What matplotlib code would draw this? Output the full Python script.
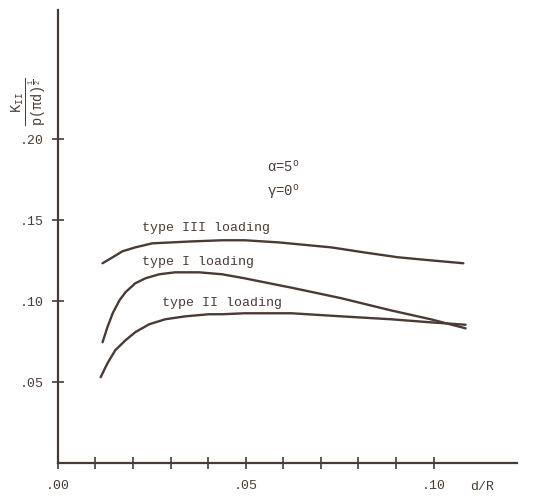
import numpy as np
from matplotlib import pyplot as plt

# curves (d/R, K_II / p(pi d)^1/2)
x_III = [0.0119, 0.0146, 0.0172, 0.0206, 0.0251, 0.0304, 0.0357, 0.0437,
         0.0497, 0.0587, 0.0728, 0.0815, 0.0905, 0.0992, 0.1079]
y_III = [0.1235, 0.1272, 0.1309, 0.1333, 0.1358, 0.1364, 0.1370, 0.1377,
         0.1377, 0.1364, 0.1333, 0.1302, 0.1272, 0.1253, 0.1235]

x_I = [0.0119, 0.0132, 0.0146, 0.0164, 0.0180, 0.0206, 0.0233, 0.0270, 0.0312,
       0.0376, 0.0437, 0.0497, 0.0587, 0.0622, 0.0754, 0.0886, 0.0992, 0.1085]
y_I = [0.0747, 0.0840, 0.0926, 0.1006, 0.1056, 0.1111, 0.1142, 0.1167, 0.1179,
       0.1179, 0.1167, 0.1142, 0.1100, 0.1084, 0.1019, 0.0944, 0.0889, 0.0833]

x_II = [0.0114, 0.0132, 0.0153, 0.0180, 0.0206, 0.0243, 0.0286, 0.0339,
        0.0402, 0.0437, 0.0497, 0.0622, 0.0754, 0.0886, 0.0992, 0.1085]
y_II = [0.0531, 0.0617, 0.0698, 0.0759, 0.0809, 0.0858, 0.0889, 0.0907,
        0.0920, 0.0920, 0.0926, 0.0926, 0.0907, 0.0889, 0.0870, 0.0855]

xticks = [0.00, 0.05, 0.10]
xtick_labels = ['.00', '.05', '.10']
xminor = [0.01, 0.02, 0.03, 0.04, 0.06, 0.07, 0.08, 0.09]
yticks = [0.05, 0.10, 0.15, 0.20]
ytick_labels = ['.05', '.10', '.15', '.20']

ink = '#4a3a36'
mono = ['Liberation Mono', 'DejaVu Sans Mono']
plt.rcParams['font.family'] = mono
plt.rcParams['mathtext.fontset'] = 'custom'
plt.rcParams['mathtext.rm'] = 'Liberation Mono'
plt.rcParams['mathtext.it'] = 'Liberation Mono'

fig = plt.figure(figsize=(5.56, 4.98), dpi=100)
ax = fig.add_axes([0.104, 0.07, 0.826, 0.91])

for xs, ys in [(x_III, y_III), (x_I, y_I), (x_II, y_II)]:
    plt.plot(xs, ys, color=ink, linewidth=1.7,
             solid_joinstyle='round', solid_capstyle='round')

ax.set_xlim(0, 0.1222)
ax.set_ylim(0, 0.28)
for s in ['top', 'right']:
    ax.spines[s].set_visible(False)
for s in ['left', 'bottom']:
    ax.spines[s].set_color(ink)
    ax.spines[s].set_linewidth(1.6)

ax.set_xticks(xticks)
ax.set_xticklabels(xtick_labels)
ax.set_xticks(xminor, minor=True)
ax.set_yticks(yticks)
ax.set_yticklabels(ytick_labels)
ax.tick_params(axis='both', which='both', direction='inout', length=8,
               width=1.2, color=ink, labelcolor=ink, labelsize=9.5)
ax.tick_params(axis='x', pad=8)
ax.tick_params(axis='y', pad=6)

ax.text(0.1098, -0.015, 'd/R', color=ink, fontsize=9.5, ha='left', va='center')
ax.text(-0.0074, 0.2235, r'$\frac{\mathrm{K_{II}}}{\mathrm{p(\pi d)^{\frac{1}{2}}}}$',
        rotation=90, color=ink, fontsize=14, ha='center', va='center')

ax.text(0.0556, 0.183, r'α=5$^{\mathrm{o}}$', color=ink, fontsize=10, ha='left', va='center')
ax.text(0.0556, 0.167, r'γ=0$^{\mathrm{o}}$', color=ink, fontsize=10, ha='left', va='center')

ax.text(0.0225, 0.145, 'type III loading', color=ink, fontsize=9.5, ha='left', va='center')
ax.text(0.0225, 0.124, 'type I loading', color=ink, fontsize=9.5, ha='left', va='center')
ax.text(0.0278, 0.099, 'type II loading', color=ink, fontsize=9.5, ha='left', va='center')

plt.savefig('out.png', dpi=100)
